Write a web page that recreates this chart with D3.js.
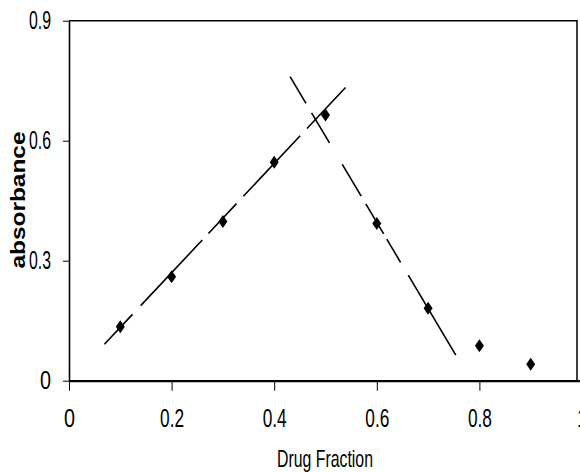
<!DOCTYPE html>
<html>
<head>
<meta charset="utf-8">
<script src="https://cdn.jsdelivr.net/npm/d3@7"></script>
<style>
  body { margin: 0; background: #fff; }
  svg { display: block; }
  .tick text { font-family: "Liberation Sans Narrow", "Arial Narrow", "Liberation Sans", sans-serif; font-size: 25px; fill: #000; }
  .label { font-family: "Liberation Sans Narrow", "Arial Narrow", "Liberation Sans", sans-serif; font-size: 24px; fill: #000; }
  .ylabel { font-family: "Liberation Sans", Arial, sans-serif; font-weight: bold; font-size: 21px; fill: #000; }
</style>
</head>
<body>
<svg id="chart" width="580" height="472"></svg>
<script>
// measured points
const fraction = [0.1, 0.2, 0.3, 0.4, 0.5, 0.6, 0.7, 0.8, 0.9];
const absorbance = [0.135, 0.26, 0.398, 0.546, 0.664, 0.393, 0.181, 0.0875, 0.041];

// dashed fit lines (end points)
const riseX = [0.069, 0.539];
const riseY = [0.091, 0.733];
const fallX = [0.431, 0.754];
const fallY = [0.76, 0.064];

const xTicks = [0, 0.2, 0.4, 0.6, 0.8, 1];
const yTicks = [0, 0.3, 0.6, 0.9];

const svg = d3.select('#chart');

const xScale = d3.scaleLinear().domain([0, 1]).range([69, 582]);
const yScale = d3.scaleLinear().domain([0, 0.9]).range([380.7, 20.7]);

// frame (top + right border)
svg.append('path')
    .attr('d', `M${xScale(0)},${yScale(0.9)}H577V${yScale(0)}`)
    .attr('fill', 'none')
    .attr('stroke', '#000')
    .attr('stroke-width', 1.5);

const xAxis = svg.append('g')
    .attr('transform', `translate(0,${yScale(0)})`)
    .call(d3.axisBottom(xScale)
        .tickValues(xTicks)
        .tickFormat(d3.format('~g'))
        .tickSize(10)
        .tickSizeOuter(0)
        .tickPadding(19));
xAxis.select('.domain').attr('stroke-width', 2.2);
xAxis.selectAll('.tick line').attr('stroke-width', 1);
xAxis.selectAll('.tick text')
    .attr('textLength', d => d === 0 || d === 1 ? 11 : 24)
    .attr('lengthAdjust', 'spacingAndGlyphs');

const yAxis = svg.append('g')
    .attr('transform', `translate(${xScale(0)},0)`)
    .call(d3.axisLeft(yScale)
        .tickValues(yTicks)
        .tickFormat(d3.format('~g'))
        .tickSize(6)
        .tickSizeOuter(0)
        .tickPadding(12));
yAxis.select('.domain').attr('stroke-width', 1.6);
yAxis.selectAll('.tick line').attr('stroke-width', 1);
yAxis.selectAll('.tick text')
    .attr('textLength', d => d === 0 ? 11 : 22)
    .attr('lengthAdjust', 'spacingAndGlyphs');

// fit lines
const line = d3.line().x(d => xScale(d[0])).y(d => yScale(d[1]));

svg.append('path')
    .attr('d', line(d3.zip(riseX, riseY)))
    .attr('fill', 'none')
    .attr('stroke', '#000')
    .attr('stroke-width', 1.6)
    .attr('stroke-dasharray', '41,12,90,9,41,10,83,10,70');

svg.append('path')
    .attr('d', line(d3.zip(fallX, fallY)))
    .attr('fill', 'none')
    .attr('stroke', '#000')
    .attr('stroke-width', 1.6)
    .attr('stroke-dasharray', '31,11,35,25,37,9,35,6,27,15,100');

// tall diamond markers
const diamond = {
    draw(context) {
        context.moveTo(0, -6.5);
        context.lineTo(4.5, 0);
        context.lineTo(0, 6.5);
        context.lineTo(-4.5, 0);
        context.closePath();
    }
};

svg.append('g')
    .selectAll('path')
    .data(d3.zip(fraction, absorbance))
    .enter()
    .append('path')
    .attr('d', d3.symbol().type(diamond))
    .attr('transform', d => `translate(${xScale(d[0])},${yScale(d[1])})`)
    .attr('fill', '#000');

// axis titles
svg.append('text')
    .attr('class', 'label')
    .attr('x', 325)
    .attr('y', 467)
    .attr('text-anchor', 'middle')
    .attr('textLength', 96)
    .attr('lengthAdjust', 'spacingAndGlyphs')
    .text('Drug Fraction');

svg.append('text')
    .attr('class', 'ylabel')
    .attr('transform', 'translate(25,200) rotate(-90)')
    .attr('text-anchor', 'middle')
    .attr('textLength', 137)
    .attr('lengthAdjust', 'spacingAndGlyphs')
    .text('absorbance');
</script>
</body>
</html>
